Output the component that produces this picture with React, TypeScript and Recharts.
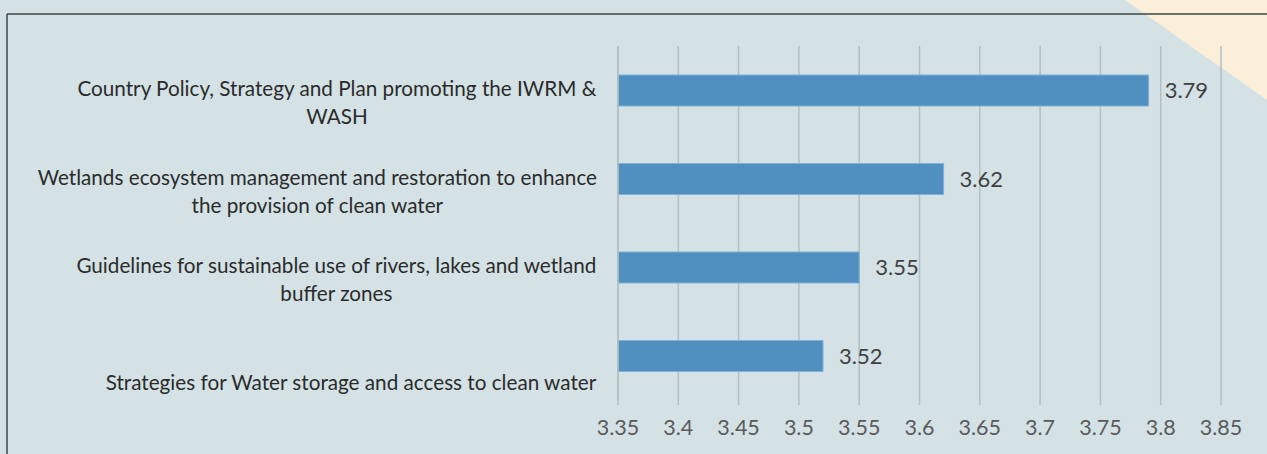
import React from "react";
import { BarChart, Bar, XAxis, YAxis, CartesianGrid, LabelList } from "recharts";

const categories = [
  ["Country Policy, Strategy and Plan promoting the IWRM &", "WASH"],
  ["Wetlands ecosystem management and restoration to enhance", "the provision of clean water"],
  ["Guidelines for sustainable use of rivers, lakes and wetland", "buffer zones"],
  ["Strategies for Water storage and access to clean water"],
];
const scores = [3.79, 3.62, 3.55, 3.52];
const xTicks = [3.35, 3.4, 3.45, 3.5, 3.55, 3.6, 3.65, 3.7, 3.75, 3.8, 3.85];

const data = categories.map((lines, i) => ({ name: lines.join(" "), lines, value: scores[i] }));

const FONT = "Lato, 'Noto Sans', sans-serif";
const LABEL_SIZE = 20.7;
const LABEL_RIGHT = 597;
const LINE_GAP = 28;

let ctx: CanvasRenderingContext2D | null = null;
function measure(text: string) {
  if (!ctx) ctx = document.createElement("canvas").getContext("2d");
  if (!ctx) return text.length * 9.5;
  ctx.font = `${LABEL_SIZE}px Lato`;
  return ctx.measureText(text).width;
}

function CategoryTick(props: any) {
  const { y, index } = props;
  const lines = categories[index] || [];
  const block = Math.max(...lines.map(measure));
  const cx = LABEL_RIGHT - block / 2;
  const n = lines.length;
  return (
    <g>
      {lines.map((line, i) => (
        <text
          key={i}
          x={cx}
          y={y + 27 - (n - 1 - i) * LINE_GAP}
          dy="0.35em"
          textAnchor="middle"
          fontFamily={FONT}
          fontSize={LABEL_SIZE}
          fill="#2b2b2b"
        >
          {line}
        </text>
      ))}
    </g>
  );
}

export default function App() {
  return (
    <div
      style={{
        position: "absolute",
        left: 0,
        top: 0,
        width: 1267,
        height: 454,
        background: "#d4e2e6",
        overflow: "hidden",
      }}
    >
      <svg width={1267} height={454} style={{ position: "absolute", left: 0, top: 0 }}>
        <polygon points="1125,0 1267,0 1267,100" fill="#fbefd9" />
        <line x1={7} y1={14} x2={1267} y2={14} stroke="#3d4845" strokeWidth={1.5} />
        <line x1={7} y1={14} x2={7} y2={454} stroke="#3d4845" strokeWidth={1.5} />
      </svg>
      <div style={{ position: "absolute", left: 0, top: 0 }}>
        <BarChart
          width={1267}
          height={454}
          data={data}
          layout="vertical"
          margin={{ top: 46, right: 46, bottom: 0, left: 0 }}
          barSize={31}
        >
          <CartesianGrid horizontal={false} stroke="#b3bfc2" strokeWidth={1.5} />
          <XAxis
            type="number"
            domain={[3.35, 3.85]}
            ticks={xTicks}
            interval={0}
            height={54}
            axisLine={false}
            tickLine={{ stroke: "#b3bfc2", strokeWidth: 1.5 }}
            tickSize={5}
            tickMargin={15}
            tick={{ fill: "#5a5a5a", fontSize: 21.5, fontFamily: FONT }}
          />
          <YAxis
            type="category"
            dataKey="name"
            width={618}
            axisLine={{ stroke: "#b3bfc2", strokeWidth: 1.5 }}
            tickLine={false}
            tick={<CategoryTick />}
            interval={0}
          />
          <Bar dataKey="value" fill="#5090c1" stroke="#80b1d8" strokeWidth={1} isAnimationActive={false}>
            <LabelList
              dataKey="value"
              position="right"
              offset={16}
              fill="#404040"
              fontSize={22}
              fontFamily={FONT}
            />
          </Bar>
        </BarChart>
      </div>
    </div>
  );
}
